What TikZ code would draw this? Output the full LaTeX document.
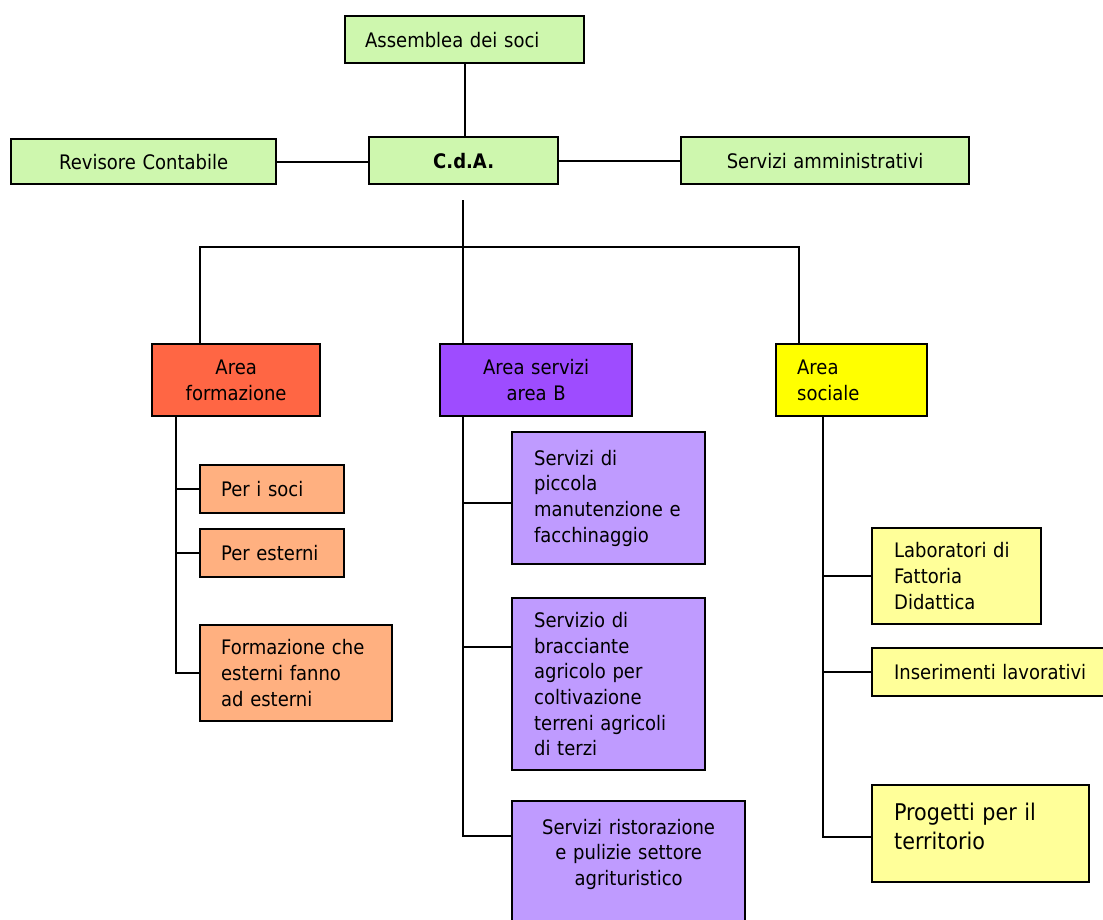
\documentclass[tikz,border=0pt]{standalone}
\usepackage{fontspec}
\setmainfont{DejaVu Sans Condensed}
\definecolor{cgreen}{RGB}{206,247,174}
\definecolor{corange}{RGB}{255,102,68}
\definecolor{cpurple}{RGB}{158,76,255}
\definecolor{cyellow}{RGB}{255,255,0}
\definecolor{csalmon}{RGB}{255,176,128}
\definecolor{clilac}{RGB}{191,155,255}
\definecolor{clyellow}{RGB}{255,255,153}
\begin{document}
\begin{tikzpicture}[x=1pt,y=-1pt,
  every node/.style={font=\fontsize{20}{25.7}\selectfont},
  box/.style={draw=black,line width=2.3pt,anchor=north west,inner xsep=0pt,inner ysep=0pt},
  sz/.style 2 args={minimum width=#1,minimum height=#2},
  conn/.style={draw=black,line width=2pt}]
\useasboundingbox (0,0) rectangle (1103,919);
% top level
\node[box,fill=cgreen,sz={239}{47},text width=199pt,align=left] (asm) at (344,15) {Assemblea~dei~soci};
\node[box,fill=cgreen,sz={189}{47},text width=150pt,align=center] (cda) at (368,136) {\bfseries C.d.A.};
\node[box,fill=cgreen,sz={265}{45},text width=230pt,align=center] (rev) at (10,138) {Revisore~Contabile};
\node[box,fill=cgreen,sz={288}{47},text width=250pt,align=center] (amm) at (680,136) {Servizi~amministrativi};
% areas
\node[box,fill=corange,sz={168}{72},text width=150pt,align=center] (af) at (151,343) {Area\\formazione};
\node[box,fill=cpurple,sz={192}{72},text width=170pt,align=center] (as) at (439,343) {Area~servizi\\area~B};
\node[box,fill=cyellow,sz={151}{72},text width=109pt,align=left] (aso) at (775,343) {Area\\sociale};
% formazione
\node[box,fill=csalmon,sz={144}{48},text width=102pt,align=left] (f1) at (199,464) {Per~i~soci};
\node[box,fill=csalmon,sz={144}{48},text width=102pt,align=left] (f2) at (199,528) {Per~esterni};
\node[box,fill=csalmon,sz={192}{96},text width=150pt,align=left] (f3) at (199,624) {Formazione~che\\esterni~fanno\\ad~esterni};
% servizi
\node[box,fill=clilac,sz={193}{132},text width=149pt,align=left] (s1) at (511,431) {Servizi~di\\piccola\\manutenzione~e\\facchinaggio};
\node[box,fill=clilac,sz={193}{172},text width=149pt,align=left] (s2) at (511,597) {Servizio~di\\bracciante\\agricolo~per\\coltivazione\\terreni~agricoli\\di~terzi};
\node[box,fill=clilac,sz={233}{125},text width=200pt,align=center] (s3) at (511,800) {Servizi~ristorazione\\e~pulizie~settore\\agrituristico\\[-3pt]\mbox{}};
% sociale
\node[box,fill=clyellow,sz={169}{96},text width=125pt,align=left] (l1) at (871,527) {Laboratori~di\\Fattoria\\Didattica};
\node[box,fill=clyellow,sz={240}{48},text width=196pt,align=left] (l2) at (871,647) {Inserimenti~lavorativi};
\node[box,fill=clyellow,sz={217}{97},text width=173pt,align=left,font=\fontsize{23}{29}\selectfont] (l3) at (871,784) {Progetti~per~il\\territorio\\[-15pt]\mbox{}};
% connectors top
\draw[conn] (asm.south) -- (asm.south |- cda.north);
\draw[conn] (rev.east) -- (rev.east -| cda.west);
\draw[conn] (cda.east) -- (cda.east -| amm.west);
\coordinate (t0) at (463,200);
\coordinate (bl) at (200,247);
\coordinate (br) at (799,247);
\draw[conn] (t0) -- (t0 |- as.north);
\draw[conn] (bl |- af.north) -- (bl) -- (br) -- (br |- aso.north);
% left spine
\coordinate (sl) at (176,415);
\draw[conn] (sl) |- (f3.west);
\draw[conn] (sl |- f1.west) -- (f1.west);
\draw[conn] (sl |- f2.west) -- (f2.west);
% middle spine
\coordinate (sm) at (463,415);
\coordinate (m1) at (463,503);
\coordinate (m2) at (463,647);
\coordinate (m3) at (463,836);
\draw[conn] (sm) -- (m3) -- (m3 -| s3.west);
\draw[conn] (m1) -- (m1 -| s1.west);
\draw[conn] (m2) -- (m2 -| s2.west);
% right spine
\coordinate (sr) at (823,415);
\coordinate (r3) at (823,837);
\draw[conn] (sr) -- (r3) -- (r3 -| l3.west);
\draw[conn] (sr |- l1.west) -- (l1.west);
\draw[conn] (sr |- l2.west) -- (l2.west);
\end{tikzpicture}
\end{document}
